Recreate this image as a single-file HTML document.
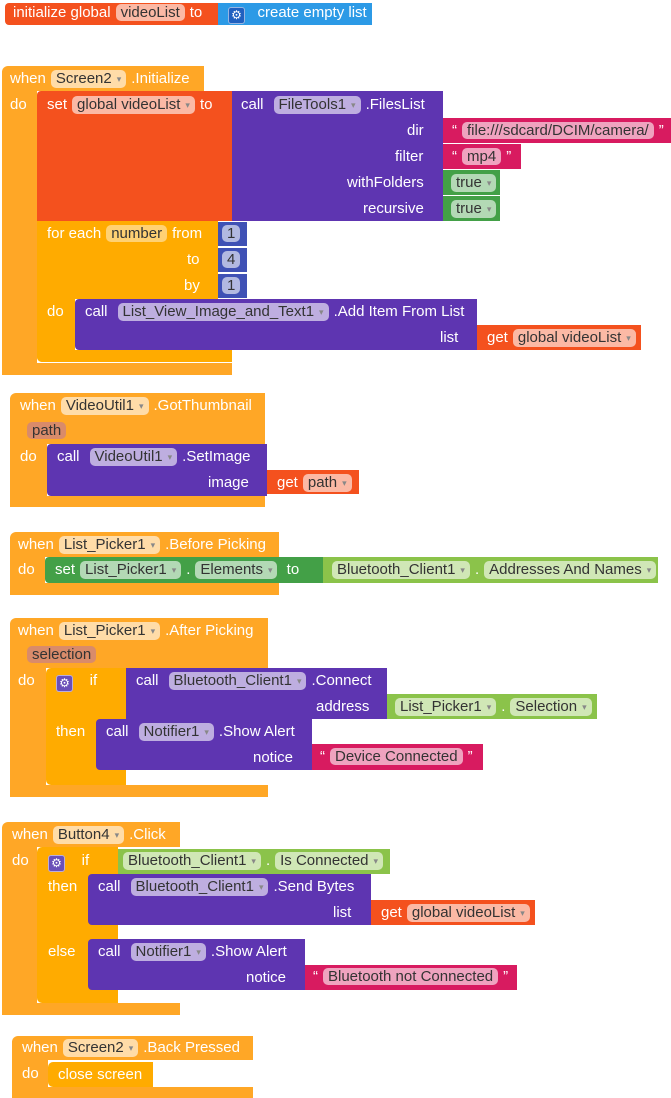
<!DOCTYPE html><html><head><meta charset="utf-8"><style>
body{margin:0;width:671px;height:1098px;background:#fff;position:relative;overflow:hidden}
.r{position:absolute}
.t{position:absolute;white-space:nowrap;font:15px/18px "Liberation Sans",sans-serif;color:#fff}
.p{display:inline-block;padding:0 5px;border-radius:5px;line-height:17px;color:#333;background:rgba(255,255,255,.6);margin:0 5px}
.a{font-size:9px;color:#888;margin-left:5px;vertical-align:1px}
.E{background:#FFA726}.C{background:#FFAB00}.S{background:#F4511E}.P{background:#5E35B1}.K{background:#D81B60}.G{background:#43A047}.L{background:#8BC34A}.M{background:#3F51B5}.B{background:#2C9AE6}
.g{display:inline-block;width:15px;height:15px;border-radius:3px;background:#6a4fb8;color:#fff;font-size:12px;line-height:15px;text-align:center;vertical-align:-2px;border:1px solid #fff8}
</style></head><body>
<!-- init global -->
<div class="r S" style="left:5px;top:3px;width:213px;height:22px;border-radius:4px 0 0 4px"></div>
<div class="r B" style="left:218px;top:3px;width:154px;height:22px"></div>
<div class="t" style="left:13px;top:4px">initialize global<span class="p">videoList</span>to</div>
<div class="t" style="left:228px;top:4px"><span class="g" style="background:#2060c0">⚙</span>&nbsp;&nbsp; create empty list</div>

<!-- Screen2.Initialize -->
<div class="r E" style="left:2px;top:66px;width:202px;height:25px;border-radius:6px 0 0 0"></div>
<div class="r E" style="left:2px;top:90px;width:35px;height:285px;border-radius:0 0 0 6px"></div>
<div class="r E" style="left:2px;top:363px;width:230px;height:12px"></div>
<div class="t" style="left:10px;top:70px">when<span class="p">Screen2<span class="a">▾</span></span>.Initialize</div>
<div class="t" style="left:10px;top:96px">do</div>
<div class="r S" style="left:37px;top:91px;width:195px;height:130px;border-radius:4px 0 0 0"></div>
<div class="r P" style="left:232px;top:91px;width:211px;height:130px"></div>
<div class="t" style="left:47px;top:96px">set<span class="p">global videoList<span class="a">▾</span></span>to</div>
<div class="t" style="left:241px;top:96px">call<span class="p" style="margin-left:10px">FileTools1<span class="a">▾</span></span>.FilesList</div>
<div class="t" style="left:407px;top:122px">dir</div>
<div class="t" style="left:395px;top:148px">filter</div>
<div class="t" style="left:347px;top:174px">withFolders</div>
<div class="t" style="left:363px;top:200px">recursive</div>
<div class="r K" style="left:443px;top:118px;width:228px;height:25px"></div>
<div class="t" style="left:452px;top:122px">“<span class="p">file:///sdcard/DCIM/camera/</span>”</div>
<div class="r K" style="left:443px;top:144px;width:78px;height:25px"></div>
<div class="t" style="left:452px;top:148px">“<span class="p">mp4</span>”</div>
<div class="r G" style="left:443px;top:170px;width:57px;height:25px"></div>
<div class="t" style="left:446px;top:174px"><span class="p">true<span class="a">▾</span></span></div>
<div class="r G" style="left:443px;top:196px;width:57px;height:25px"></div>
<div class="t" style="left:446px;top:200px"><span class="p">true<span class="a">▾</span></span></div>
<!-- for each -->
<div class="r C" style="left:37px;top:221px;width:181px;height:78px"></div>
<div class="r C" style="left:37px;top:299px;width:38px;height:63px;border-radius:0 0 0 5px"></div>
<div class="r C" style="left:37px;top:350px;width:195px;height:12px;border-radius:0 0 0 5px"></div>
<div class="t" style="left:47px;top:225px">for each<span class="p" style="background:rgba(255,255,255,.45)">number</span>from</div>
<div class="t" style="left:187px;top:251px">to</div>
<div class="t" style="left:184px;top:277px">by</div>
<div class="t" style="left:47px;top:303px">do</div>
<div class="r M" style="left:218px;top:222px;width:29px;height:24px"></div>
<div class="r M" style="left:218px;top:248px;width:29px;height:24px"></div>
<div class="r M" style="left:218px;top:274px;width:29px;height:24px"></div>
<div class="t" style="left:217px;top:225px"><span class="p">1</span></div>
<div class="t" style="left:217px;top:251px"><span class="p">4</span></div>
<div class="t" style="left:217px;top:277px"><span class="p">1</span></div>
<div class="r P" style="left:75px;top:299px;width:402px;height:51px;border-radius:4px 0 0 4px"></div>
<div class="t" style="left:85px;top:303px">call<span class="p" style="margin-left:10px">List_View_Image_and_Text1<span class="a">▾</span></span>.Add Item From List</div>
<div class="t" style="left:440px;top:329px">list</div>
<div class="r S" style="left:477px;top:325px;width:164px;height:25px"></div>
<div class="t" style="left:487px;top:329px">get<span class="p">global videoList<span class="a">▾</span></span></div>

<!-- GotThumbnail -->
<div class="r E" style="left:10px;top:393px;width:255px;height:51px;border-radius:6px 0 0 0"></div>
<div class="r E" style="left:10px;top:444px;width:37px;height:63px;border-radius:0 0 0 6px"></div>
<div class="r E" style="left:10px;top:496px;width:255px;height:11px"></div>
<div class="t" style="left:20px;top:397px">when<span class="p">VideoUtil1<span class="a">▾</span></span>.GotThumbnail</div>
<div class="t" style="left:27px;top:422px"><span class="p" style="background:#d98b6a;margin:0">path</span></div>
<div class="t" style="left:20px;top:448px">do</div>
<div class="r P" style="left:47px;top:444px;width:220px;height:52px;border-radius:4px 0 0 4px"></div>
<div class="t" style="left:57px;top:448px">call<span class="p" style="margin-left:10px">VideoUtil1<span class="a">▾</span></span>.SetImage</div>
<div class="t" style="left:208px;top:474px">image</div>
<div class="r S" style="left:267px;top:470px;width:92px;height:24px"></div>
<div class="t" style="left:277px;top:474px">get<span class="p">path<span class="a">▾</span></span></div>

<!-- BeforePicking -->
<div class="r E" style="left:10px;top:532px;width:269px;height:25px;border-radius:6px 0 0 0"></div>
<div class="r E" style="left:10px;top:557px;width:35px;height:38px;border-radius:0 0 0 6px"></div>
<div class="r E" style="left:10px;top:583px;width:269px;height:12px"></div>
<div class="t" style="left:18px;top:536px">when<span class="p">List_Picker1<span class="a">▾</span></span>.Before Picking</div>
<div class="t" style="left:18px;top:561px">do</div>
<div class="r G" style="left:45px;top:557px;width:278px;height:26px;border-radius:4px 0 0 4px"></div>
<div class="t" style="left:55px;top:561px">set<span class="p">List_Picker1<span class="a">▾</span></span>.<span class="p">Elements<span class="a">▾</span></span>&nbsp;to</div>
<div class="r L" style="left:323px;top:557px;width:335px;height:26px"></div>
<div class="t" style="left:327px;top:561px"><span class="p">Bluetooth_Client1<span class="a">▾</span></span>.<span class="p">Addresses And Names<span class="a">▾</span></span></div>

<!-- AfterPicking -->
<div class="r E" style="left:10px;top:618px;width:258px;height:50px;border-radius:6px 0 0 0"></div>
<div class="r E" style="left:10px;top:668px;width:36px;height:129px;border-radius:0 0 0 6px"></div>
<div class="r E" style="left:10px;top:785px;width:258px;height:12px"></div>
<div class="t" style="left:18px;top:622px">when<span class="p">List_Picker1<span class="a">▾</span></span>.After Picking</div>
<div class="t" style="left:27px;top:646px"><span class="p" style="background:#d98b6a;margin:0">selection</span></div>
<div class="t" style="left:18px;top:672px">do</div>
<div class="r C" style="left:46px;top:668px;width:80px;height:117px;border-radius:5px 0 0 5px"></div>
<div class="t" style="left:56px;top:672px"><span class="g">⚙</span>&nbsp;&nbsp;&nbsp; if</div>
<div class="t" style="left:56px;top:723px">then</div>
<div class="r P" style="left:126px;top:668px;width:261px;height:51px"></div>
<div class="t" style="left:136px;top:672px">call<span class="p" style="margin-left:10px">Bluetooth_Client1<span class="a">▾</span></span>.Connect</div>
<div class="t" style="left:316px;top:698px">address</div>
<div class="r L" style="left:387px;top:694px;width:210px;height:25px"></div>
<div class="t" style="left:390px;top:698px"><span class="p">List_Picker1<span class="a">▾</span></span>.<span class="p">Selection<span class="a">▾</span></span></div>
<div class="r P" style="left:96px;top:719px;width:216px;height:51px;border-radius:4px 0 0 4px"></div>
<div class="t" style="left:106px;top:723px">call<span class="p" style="margin-left:10px">Notifier1<span class="a">▾</span></span>.Show Alert</div>
<div class="t" style="left:253px;top:749px">notice</div>
<div class="r K" style="left:312px;top:744px;width:171px;height:26px"></div>
<div class="t" style="left:320px;top:748px">“<span class="p">Device Connected</span>”</div>

<!-- Button4.Click -->
<div class="r E" style="left:2px;top:822px;width:178px;height:25px;border-radius:6px 0 0 0"></div>
<div class="r E" style="left:2px;top:847px;width:35px;height:168px;border-radius:0 0 0 6px"></div>
<div class="r E" style="left:2px;top:1003px;width:178px;height:12px"></div>
<div class="t" style="left:12px;top:826px">when<span class="p">Button4<span class="a">▾</span></span>.Click</div>
<div class="t" style="left:12px;top:852px">do</div>
<div class="r C" style="left:37px;top:847px;width:81px;height:156px;border-radius:5px 0 0 5px"></div>
<div class="t" style="left:48px;top:852px"><span class="g">⚙</span>&nbsp;&nbsp;&nbsp; if</div>
<div class="t" style="left:48px;top:878px">then</div>
<div class="t" style="left:48px;top:943px">else</div>
<div class="r L" style="left:118px;top:849px;width:272px;height:25px"></div>
<div class="t" style="left:118px;top:852px"><span class="p">Bluetooth_Client1<span class="a">▾</span></span>.<span class="p">Is Connected<span class="a">▾</span></span></div>
<div class="r P" style="left:88px;top:874px;width:283px;height:51px;border-radius:4px 0 0 4px"></div>
<div class="t" style="left:98px;top:878px">call<span class="p" style="margin-left:10px">Bluetooth_Client1<span class="a">▾</span></span>.Send Bytes</div>
<div class="t" style="left:333px;top:904px">list</div>
<div class="r S" style="left:371px;top:900px;width:164px;height:25px"></div>
<div class="t" style="left:381px;top:904px">get<span class="p">global videoList<span class="a">▾</span></span></div>
<div class="r P" style="left:88px;top:939px;width:217px;height:51px;border-radius:4px 0 0 4px"></div>
<div class="t" style="left:98px;top:943px">call<span class="p" style="margin-left:10px">Notifier1<span class="a">▾</span></span>.Show Alert</div>
<div class="t" style="left:246px;top:969px">notice</div>
<div class="r K" style="left:305px;top:965px;width:212px;height:25px"></div>
<div class="t" style="left:313px;top:968px">“<span class="p">Bluetooth not Connected</span>”</div>

<!-- BackPressed -->
<div class="r E" style="left:12px;top:1036px;width:241px;height:24px;border-radius:6px 0 0 0"></div>
<div class="r E" style="left:12px;top:1060px;width:36px;height:38px;border-radius:0 0 0 6px"></div>
<div class="r E" style="left:12px;top:1087px;width:241px;height:11px"></div>
<div class="t" style="left:22px;top:1039px">when<span class="p">Screen2<span class="a">▾</span></span>.Back Pressed</div>
<div class="t" style="left:22px;top:1065px">do</div>
<div class="r C" style="left:48px;top:1062px;width:105px;height:25px;border-radius:5px 0 0 5px"></div>
<div class="t" style="left:58px;top:1066px">close screen</div>
</body></html>
